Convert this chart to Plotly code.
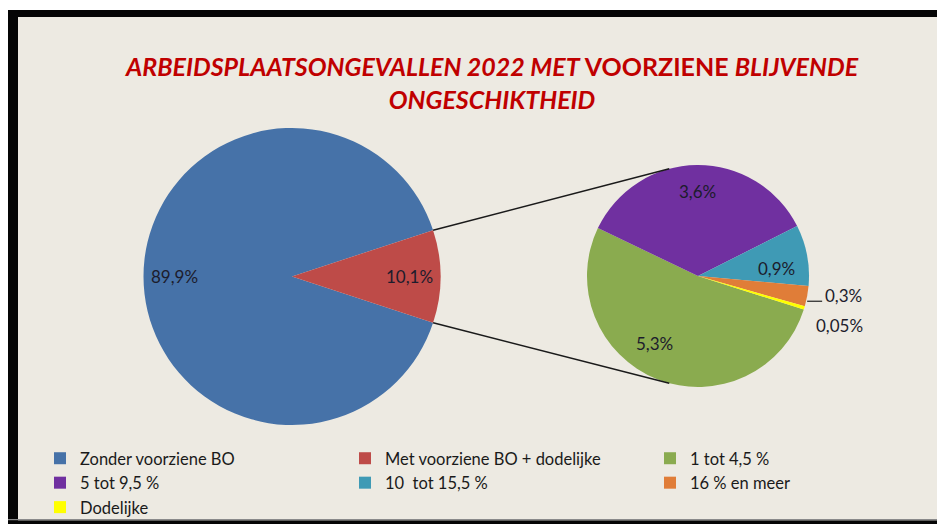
import numpy as np
import plotly.graph_objects as go

# ---------------- data ----------------
main_labels = ["Zonder voorziene BO", "Met voorziene BO + dodelijke"]
main_values = [89.9, 10.1]
main_text = ["89,9%", "10,1%"]

sub_labels = ["1 tot 4,5 %", "5 tot 9,5 %", "10  tot 15,5 %", "16 % en meer", "Dodelijke"]
sub_values = [5.3, 3.6, 0.9, 0.3, 0.05]
sub_text = ["5,3%", "3,6%", "0,9%", "0,3%", "0,05%"]

title_text = ("<b><i>ARBEIDSPLAATSONGEVALLEN 2022 MET</i> VOORZIENE <i>BLIJVENDE</i>"
              "<br><i>ONGESCHIKTHEID</i></b>")

# ---------------- style ----------------
W, H = 937, 524
FONT = "Lato"
BG = "#EDEAE2"
TXT = "#1c1c2c"
main_colors = ["#4672A8", "#BE4B48"]
sub_colors = ["#8AAB4F", "#7030A0", "#3F9AB5", "#E07D38", "#FFFF00"]

MAIN_C, MAIN_R = (292.0, 276.5), 148.5
SUB_C, SUB_R = (698.0, 276.0), 111.0
SUB_ROT = 107.6          # compass angle where the first sub slice starts
CONNECT_ANG = 15.0       # connector attach angle on the sub pie
SUB_LBL_R = [0.72, 0.76, 0.71]     # radial position of inside labels
SUB_LBL_DA = [11.0, 0.0, 5.0]      # angular nudge of inside labels


def px(x):
    return x / W


def py(y):
    return 1 - y / H


def pos(c, r, ang):
    a = np.radians(ang)
    return c[0] + r * np.sin(a), c[1] - r * np.cos(a)


def slice_bounds(values, rot):
    v = np.asarray(values, float)
    cum = np.concatenate([[0], np.cumsum(v)]) / v.sum() * 360.0
    return rot + cum[:-1], rot + cum[1:]


main_rot = 90 + 180 * main_values[1] / sum(main_values)

fig = go.Figure()
fig.add_trace(go.Pie(
    labels=main_labels, values=main_values, sort=False, direction="clockwise",
    rotation=main_rot, textinfo="none", marker=dict(colors=main_colors, line=dict(width=0)),
    domain=dict(x=[px(MAIN_C[0] - MAIN_R), px(MAIN_C[0] + MAIN_R)],
                y=[py(MAIN_C[1] + MAIN_R), py(MAIN_C[1] - MAIN_R)]),
    hoverinfo="label+percent", showlegend=True,
))
fig.add_trace(go.Pie(
    labels=sub_labels, values=sub_values, sort=False, direction="clockwise",
    rotation=SUB_ROT, textinfo="none", marker=dict(colors=sub_colors, line=dict(width=0)),
    domain=dict(x=[px(SUB_C[0] - SUB_R), px(SUB_C[0] + SUB_R)],
                y=[py(SUB_C[1] + SUB_R), py(SUB_C[1] - SUB_R)]),
    hoverinfo="label+percent", showlegend=True,
))

annotations = []
shapes = []
LBL = dict(family=FONT, size=17, color=TXT)

# labels of main pie
s0, s1 = slice_bounds(main_values, main_rot)
for t, a0, a1 in zip(main_text, s0, s1):
    x, y = pos(MAIN_C, MAIN_R * 0.79, (a0 + a1) / 2)
    annotations.append(dict(x=px(x), y=py(y), text=t, showarrow=False,
                            xanchor="center", yanchor="middle", font=LBL))

# labels of sub pie
b0, b1 = slice_bounds(sub_values, SUB_ROT)
mids = (b0 + b1) / 2
for i, t in enumerate(sub_text):
    if i <= 2:
        x, y = pos(SUB_C, SUB_R * SUB_LBL_R[i], mids[i] + SUB_LBL_DA[i])
        annotations.append(dict(x=px(x), y=py(y), text=t, showarrow=False,
                                xanchor="center", yanchor="middle", font=LBL))
    elif i == 3:
        xe, ye = pos(SUB_C, SUB_R * 1.0, mids[i])
        ye += 5
        shapes.append(dict(type="line", xref="paper", yref="paper",
                           x0=px(xe), y0=py(ye), x1=px(xe + 15), y1=py(ye),
                           line=dict(color="#222", width=1.2)))
        annotations.append(dict(x=px(xe + 16), y=py(ye - 6), text=t, showarrow=False,
                                xanchor="left", yanchor="middle", font=LBL))
    else:
        x, y = pos(SUB_C, SUB_R * 1.33, mids[i])
        annotations.append(dict(x=px(x), y=py(y + 7), text=t, showarrow=False,
                                xanchor="center", yanchor="middle", font=LBL))

# connector lines
red0, red1 = s0[1], s1[1]
for ma, sa in ((red0, -CONNECT_ANG), (red1, 180 + CONNECT_ANG)):
    x0, y0 = pos(MAIN_C, MAIN_R, ma)
    x1, y1 = pos(SUB_C, SUB_R, sa)
    shapes.append(dict(type="line", xref="paper", yref="paper",
                       x0=px(x0), y0=py(y0), x1=px(x1), y1=py(y1),
                       line=dict(color="#1a1a1a", width=1.5)))

# title
annotations.append(dict(x=px(492), y=py(83), text=title_text, showarrow=False,
                        align="center", xanchor="center", yanchor="middle",
                        font=dict(family=FONT, size=25, color="#C00000")))

# frame
def rect(x0, y0, x1, y1, color):
    return dict(type="rect", xref="paper", yref="paper", x0=px(x0), x1=px(x1),
                y0=py(y1), y1=py(y0), fillcolor=color, line=dict(width=0), layer="above")

shapes += [
    rect(925, 17, W, 519, BG),
    rect(0, 0, W, 10, "white"),
    rect(0, 0, 8, H, "white"),
    rect(8, 10, W, 17, "#050505"),
    rect(8, 10, 18, H, "#050505"),
    rect(8, 519, W, 520.5, "#8a8a8a"),
    rect(8, 520.5, W, H, "#050505"),
]

fig.update_layout(
    width=W, height=H, autosize=False,
    margin=dict(l=0, r=0, t=0, b=0, pad=0, autoexpand=False),
    paper_bgcolor=BG, plot_bgcolor=BG,
    font=dict(family=FONT, color=TXT),
    annotations=annotations, shapes=shapes,
    legend=dict(orientation="h", x=px(40), y=py(441), xanchor="left", yanchor="top",
                font=dict(family=FONT, size=16.5, color="#1a1a1a"),
                entrywidth=260, entrywidthmode="pixels", traceorder="normal",
                bgcolor="rgba(0,0,0,0)"),
)

fig.write_html("out.html", config={"displayModeBar": False},
               post_script="document.body.style.margin='0';document.body.style.overflow='hidden';")
